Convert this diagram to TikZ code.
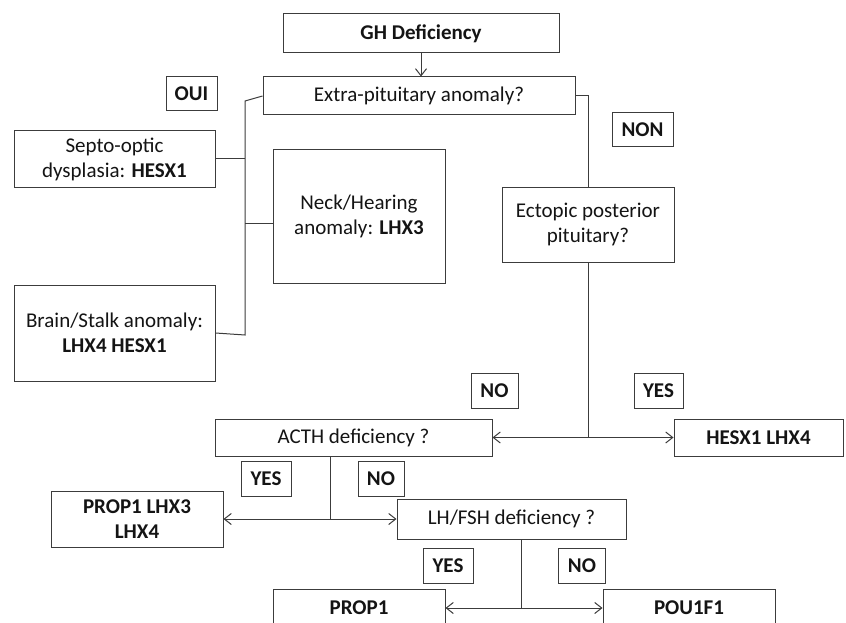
\documentclass[tikz,border=0pt]{standalone}
\usepackage{xcolor}
\usepackage{fontspec}
\setmainfont{Carlito}
\usepackage{tikz}
\usetikzlibrary{arrows.meta, positioning}
\definecolor{linecolor}{RGB}{60,60,60}
\definecolor{textcolor}{RGB}{20,20,20}
\tikzset{
  box/.style={draw=linecolor, line width=1pt, rectangle, inner sep=0pt, align=center,
    text=textcolor, font=\fontsize{21}{25}\selectfont},
  tag/.style={box, font=\fontsize{21}{25}\selectfont\bfseries},
  link/.style={draw=linecolor, line width=1pt},
  arr/.style={link, -{Straight Barb[length=7pt, width=11pt]}},
  twoarr/.style={link, {Straight Barb[length=7pt, width=11pt]}-{Straight Barb[length=7pt, width=11pt]}}
}

\begin{document}
\begin{tikzpicture}[x=1pt, y=-1pt]
    \clip (0,0) rectangle (846,623);
    \fill[white] (0,0) rectangle (846,623);

    % Top
    \node[box, minimum width=276, minimum height=39] (gh) at (421,33.5) {\textbf{GH Deficiency}};
    \node[box, minimum width=312, minimum height=38] (extra) at (419,96) {Extra-pituitary anomaly?};
    \node[tag, minimum width=51, minimum height=34] (oui) at (191.5,94) {OUI};
    \node[tag, minimum width=61, minimum height=34] (non) at (642.5,130) {NON};

    % Extra-pituitary branch
    \node[box, minimum width=201, minimum height=56] (septo) at (114.5,159) {Septo-optic\\dysplasia: \textbf{HESX1}};
    \node[box, minimum width=172, minimum height=133] (neck) at (359,216.5) {Neck/Hearing\\anomaly: \textbf{LHX3}};
    \node[box, minimum width=201, minimum height=96] (brain) at (114.5,333) {Brain/Stalk anomaly:\\\textbf{LHX4 HESX1}};

    % Pituitary branch
    \node[box, minimum width=172, minimum height=75] (ecto) at (588,224.5) {Ectopic posterior\\pituitary?};
    \node[tag, minimum width=47, minimum height=35] (no1) at (494.5,390.5) {NO};
    \node[tag, minimum width=49, minimum height=35] (yes1) at (658.5,390.5) {YES};
    \node[box, minimum width=277, minimum height=37] (acth) at (353.5,437.5) {ACTH deficiency ?};
    \node[box, minimum width=169, minimum height=37] (hesx) at (758.5,437.5) {\textbf{HESX1 LHX4}};

    \node[tag, minimum width=50, minimum height=35] (yes2) at (266,478.5) {YES};
    \node[tag, minimum width=46, minimum height=35] (no2) at (381,478.5) {NO};
    \node[box, minimum width=172, minimum height=56] (plhx) at (137,519) {\textbf{PROP1 LHX3}\\\textbf{LHX4}};
    \node[box, minimum width=229, minimum height=40] (lh) at (511.5,519) {LH/FSH deficiency ?};

    \node[tag, minimum width=50, minimum height=35] (yes3) at (448,565.5) {YES};
    \node[tag, minimum width=47, minimum height=35] (no3) at (582,565.5) {NO};
    \node[box, minimum width=172, minimum height=38] (prop) at (359,608) {\textbf{PROP1}};
    \node[box, minimum width=172, minimum height=38] (pou) at (689,608) {\textbf{POU1F1}};

    % Connectors
    \coordinate (trunk) at (245,0);
    \coordinate (j1) at (ecto.south |- hesx.west);
    \coordinate (j2) at (330,519);
    \coordinate (j3) at (521,608);

    \draw[arr] (gh.south) -- (gh.south |- extra.north);
    \draw[link] (extra.west) -- ([yshift=-5]extra.west -| trunk) -- ([yshift=-2]brain.east -| trunk) -- (brain.east);
    \draw[link] (septo.east) -- (septo.east -| trunk);
    \draw[link] ([yshift=-7]neck.west) -- ([yshift=-7]neck.west -| trunk);
    \draw[link] (extra.east) -| (ecto.north);

    \draw[link] (ecto.south) -- (j1);
    \draw[twoarr] (acth.east |- j1) -- (hesx.west);
    \draw[link] (acth.south -| j2) -- (j2);
    \draw[twoarr] (plhx.east) -- (lh.west);
    \draw[link] (lh.south -| j3) -- (j3);
    \draw[twoarr] (prop.east) -- (pou.west);
\end{tikzpicture}
\end{document}
